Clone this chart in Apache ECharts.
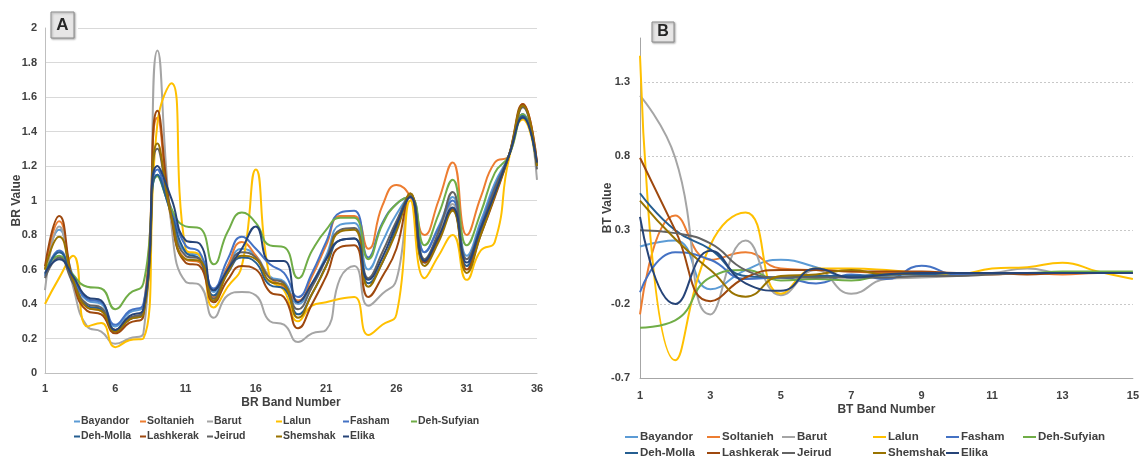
<!DOCTYPE html>
<html><head><meta charset="utf-8">
<script src="https://cdn.jsdelivr.net/npm/echarts@6/dist/echarts.min.js"></script>
<style>html,body{margin:0;padding:0;background:#fff}#c{width:1142px;height:463px}</style>
</head><body><div id="c"></div>
<script>
// ---------- DATA ----------
const bandsA = ['1','2','3','4','5','6','7','8','9','10','11','12','13','14','15','16','17','18','19','20','21','22','23','24','25','26','27','28','29','30','31','32','33','34','35','36'];
const bandsB = ['1','2','3','4','5','6','7','8','9','10','11','12','13','14','15'];
const seriesNames = ['Bayandor','Soltanieh','Barut','Lalun','Fasham','Deh-Sufyian','Deh-Molla','Lashkerak','Jeirud','Shemshak','Elika'];
const seriesColors = ['#5B9BD5','#ED7D31','#A5A5A5','#FFC000','#4472C4','#70AD47','#255E91','#9E480E','#636363','#997300','#264478'];

// BR values (panel A)
const brBayandor   = [0.60,0.83,0.56,0.42,0.40,0.27,0.35,0.39,1.15,0.92,0.70,0.68,0.47,0.62,0.72,0.68,0.56,0.53,0.40,0.52,0.68,0.86,0.87,0.60,0.76,0.92,1.02,0.70,0.85,1.02,0.68,0.88,1.10,1.26,1.50,1.20];
const brSoltanieh  = [0.60,0.88,0.52,0.38,0.36,0.25,0.31,0.37,1.48,0.88,0.66,0.64,0.44,0.62,0.76,0.68,0.55,0.50,0.42,0.56,0.74,0.91,0.91,0.72,0.97,1.09,1.02,0.80,1.00,1.22,0.80,1.02,1.22,1.26,1.56,1.22];
const brBarut      = [0.48,0.85,0.50,0.27,0.24,0.17,0.20,0.23,1.87,0.85,0.53,0.51,0.32,0.45,0.47,0.45,0.30,0.28,0.18,0.23,0.25,0.55,0.62,0.39,0.46,0.54,1.03,0.65,0.80,0.98,0.62,0.82,1.05,1.26,1.55,1.12];
const brLalun      = [0.40,0.55,0.68,0.27,0.29,0.15,0.19,0.20,1.45,1.68,0.72,0.68,0.38,0.50,0.62,1.18,0.55,0.48,0.30,0.39,0.41,0.43,0.44,0.22,0.28,0.34,1.00,0.55,0.68,0.80,0.54,0.71,0.76,1.24,1.47,1.20];
const brFasham     = [0.56,0.71,0.55,0.43,0.41,0.28,0.36,0.40,1.18,0.95,0.74,0.70,0.49,0.66,0.79,0.72,0.63,0.58,0.44,0.58,0.76,0.93,0.94,0.67,0.87,0.98,1.02,0.70,0.84,1.00,0.66,0.86,1.08,1.26,1.50,1.20];
const brDehSufyian = [0.60,0.68,0.57,0.50,0.49,0.37,0.46,0.52,1.14,0.95,0.85,0.84,0.63,0.82,0.93,0.87,0.74,0.73,0.55,0.71,0.83,0.90,0.90,0.66,0.86,0.98,1.02,0.74,0.92,1.12,0.74,0.93,1.16,1.26,1.50,1.20];
const brDehMolla   = [0.57,0.70,0.53,0.39,0.37,0.24,0.31,0.35,1.15,0.92,0.70,0.66,0.45,0.58,0.67,0.64,0.51,0.49,0.34,0.46,0.62,0.77,0.78,0.52,0.64,0.84,1.03,0.64,0.78,0.95,0.62,0.83,1.04,1.26,1.49,1.20];
const brLashkerak  = [0.62,0.91,0.53,0.36,0.34,0.23,0.29,0.33,1.52,0.90,0.64,0.62,0.41,0.54,0.62,0.60,0.47,0.44,0.26,0.40,0.56,0.73,0.74,0.44,0.56,0.72,1.04,0.64,0.78,0.95,0.60,0.80,1.02,1.26,1.56,1.22];
const brJeirud     = [0.55,0.67,0.52,0.40,0.38,0.25,0.32,0.36,1.30,0.91,0.68,0.66,0.43,0.60,0.70,0.67,0.55,0.52,0.37,0.50,0.66,0.83,0.84,0.55,0.70,0.88,1.03,0.66,0.82,1.05,0.66,0.84,1.07,1.26,1.54,1.18];
const brShemshak   = [0.60,0.79,0.54,0.38,0.36,0.24,0.31,0.34,1.33,0.90,0.66,0.65,0.42,0.58,0.68,0.66,0.53,0.51,0.32,0.46,0.62,0.82,0.83,0.50,0.64,0.82,1.04,0.62,0.76,0.94,0.58,0.80,1.03,1.26,1.55,1.20];
const brElika      = [0.58,0.66,0.56,0.44,0.42,0.25,0.33,0.37,1.20,1.01,0.77,0.75,0.48,0.60,0.72,0.85,0.65,0.65,0.41,0.52,0.66,0.77,0.78,0.54,0.67,0.86,1.02,0.65,0.79,0.96,0.64,0.84,1.04,1.26,1.48,1.22];

// BT values (panel B)
const btBayandor   = [0.19,0.23,-0.10,0.03,0.10,0.05,-0.02,-0.01,0.01,0.00,0.01,0.01,0.01,0.01,0.01];
const btSoltanieh  = [-0.27,0.40,0.10,0.15,0.04,0.03,0.02,0.01,0.01,0.00,0.00,0.01,0.00,0.01,0.01];
const btBarut      = [1.21,0.79,-0.27,0.23,-0.14,0.03,-0.13,-0.03,-0.02,-0.01,0.01,0.04,0.01,0.01,0.01];
const btLalun      = [1.48,-0.58,0.20,0.42,-0.13,0.04,0.04,0.03,0.01,0.00,0.04,0.05,0.08,0.02,-0.03];
const btFasham     = [-0.12,0.15,0.10,-0.03,-0.02,-0.06,0.00,-0.03,0.06,0.00,0.01,0.01,0.01,0.01,0.01];
const btDehSufyian = [-0.36,-0.31,-0.02,0.03,-0.04,-0.03,-0.04,0.00,0.01,0.01,0.01,0.01,0.02,0.02,0.02];
const btDehMolla   = [0.55,0.30,0.17,-0.01,-0.02,-0.01,-0.01,0.00,0.00,0.01,0.01,0.01,0.01,0.01,0.01];
const btLashkerak  = [0.79,0.30,-0.18,-0.02,0.03,0.03,0.02,0.02,0.02,0.01,0.01,0.00,0.01,0.01,0.01];
const btJeirud     = [0.30,0.28,0.21,0.03,-0.02,-0.02,-0.02,-0.02,-0.01,-0.01,0.00,0.01,0.01,0.01,0.01];
const btShemshak   = [0.50,0.24,0.03,-0.15,-0.01,0.00,0.03,0.00,0.01,0.01,0.01,0.01,0.01,0.01,0.01];
const btElika      = [0.39,-0.20,0.16,-0.06,-0.11,0.04,-0.02,0.00,0.01,0.01,0.01,0.01,0.01,0.01,0.01];

const yTicksA = {min: 0, max: 2, step: 0.2};
const yTicksB = {min: -0.7, max: 1.6, step: 0.5};   // labels -0.7, -0.2, 0.3, 0.8, 1.3

// ---------- CHART ----------
const brData = [brBayandor,brSoltanieh,brBarut,brLalun,brFasham,brDehSufyian,brDehMolla,brLashkerak,brJeirud,brShemshak,brElika];
const btData = [btBayandor,btSoltanieh,btBarut,btLalun,btFasham,btDehSufyian,btDehMolla,btLashkerak,btJeirud,btShemshak,btElika];
// B axis is drawn with an offset so that ticks start at -0.7 (ECharts counts ticks from a multiple of the interval)
const offB = -yTicksB.min;

const FONT = '"Liberation Sans", Arial, sans-serif';
const TXT = '#404040';

const series = [];
seriesNames.forEach((n, i) => {
  series.push({type:'line', name:n, xAxisIndex:0, yAxisIndex:0, data:brData[i], smooth:0.5,
    symbol:'none', showSymbol:false, lineStyle:{width:2, color:seriesColors[i]}, itemStyle:{color:seriesColors[i]}});
});
seriesNames.forEach((n, i) => {
  series.push({type:'line', name:n, xAxisIndex:1, yAxisIndex:1, data:btData[i].map(v => v + offB), smooth:0.5,
    symbol:'none', showSymbol:false, lineStyle:{width:2, color:seriesColors[i]}, itemStyle:{color:seriesColors[i]}});
});

const legends = [];
const colTextA = [81,147,214,283,350,418];
const rowA = [416,431];
const colTextB = [640,722,797,888,961,1038];
const rowB = [431,447];
seriesNames.forEach((n, i) => {
  const r = i < 6 ? 0 : 1, c = i < 6 ? i : i - 6;
  legends.push({data:[n], left: colTextA[c] - 7, top: rowA[r], padding:0, itemWidth:6, itemHeight:2, icon:'rect',
    selectedMode:false, textStyle:{fontSize:10.5, fontWeight:'bold', color:TXT, fontFamily:FONT, padding:[0,0,0,-4]}});
  legends.push({data:[n], left: colTextB[c] - 15, top: rowB[r], padding:0, itemWidth:13, itemHeight:2, icon:'rect',
    selectedMode:false, textStyle:{fontSize:11.5, fontWeight:'bold', color:TXT, fontFamily:FONT, padding:[0,0,0,-3]}});
});

const axisLabelStyle = {fontSize:11, fontWeight:'bold', color:TXT, fontFamily:FONT};
const nameStyle = {fontSize:12, fontWeight:'bold', color:TXT, fontFamily:FONT};

const option = {
  animation:false,
  backgroundColor:'#fff',
  grid:[
    {left:45, top:28, width:492, height:345},
    {left:640, top:38, width:494, height:340}
  ],
  xAxis:[
    {type:'category', gridIndex:0, data:bandsA, boundaryGap:false,
     axisLine:{lineStyle:{color:'#bfbfbf', width:1}}, axisTick:{show:false},
     axisLabel:Object.assign({interval:4, margin:10}, axisLabelStyle),
     name:'BR Band Number', nameLocation:'middle', nameGap:24, nameMoveOverlap:false, nameTextStyle:nameStyle, splitLine:{show:false}},
    {type:'category', gridIndex:1, data:bandsB, boundaryGap:false,
     axisLine:{lineStyle:{color:'#a6a6a6', width:1}}, axisTick:{show:false},
     axisLabel:Object.assign({interval:1, margin:12}, axisLabelStyle),
     name:'BT Band Number', nameLocation:'middle', nameGap:26, nameMoveOverlap:false, nameTextStyle:nameStyle, splitLine:{show:false}}
  ],
  yAxis:[
    {type:'value', gridIndex:0, min:yTicksA.min, max:yTicksA.max, interval:yTicksA.step,
     axisLine:{show:true, lineStyle:{color:'#bfbfbf', width:1}}, axisTick:{show:false},
     axisLabel:Object.assign({margin:8}, axisLabelStyle),
     splitLine:{show:true, lineStyle:{color:'#d9d9d9', width:1}},
     name:'BR Value', nameLocation:'middle', nameGap:22, nameMoveOverlap:false, nameTextStyle:nameStyle},
    {type:'value', gridIndex:1, min:0, max:yTicksB.max + offB, interval:yTicksB.step,
     axisLine:{show:true, lineStyle:{color:'#a6a6a6', width:1}}, axisTick:{show:false},
     axisLabel:Object.assign({margin:10, showMaxLabel:false,
        formatter: v => (Math.round((v - offB) * 10) / 10).toString()}, axisLabelStyle),
     splitLine:{show:true, showMinLine:false, showMaxLine:false, lineStyle:{color:'#c8c8c8', width:1, type:[2,2]}},
     name:'BT Value', nameLocation:'middle', nameGap:26, nameMoveOverlap:false, nameTextStyle:nameStyle}
  ],
  legend: legends,
  series: series,
  graphic:[
    {type:'rect', shape:{x:46, y:24, width:32, height:8}, style:{fill:'#fff'}, z:100},
    {type:'rect', shape:{x:51, y:12, width:23, height:26}, style:{fill:'#e7e6e6', stroke:'#8c8c8c', lineWidth:1,
      shadowBlur:2, shadowColor:'rgba(0,0,0,0.3)', shadowOffsetX:1, shadowOffsetY:1}, z:101},
    {type:'text', x:62.5, y:25, style:{text:'A', fill:'#262626', font:'bold 17px "Liberation Sans", Arial, sans-serif',
      textAlign:'center', textVerticalAlign:'middle'}, z:102},
    {type:'rect', shape:{x:652, y:22, width:22, height:20}, style:{fill:'#e7e6e6', stroke:'#8c8c8c', lineWidth:1,
      shadowBlur:2, shadowColor:'rgba(0,0,0,0.3)', shadowOffsetX:1, shadowOffsetY:1}, z:101},
    {type:'text', x:663, y:32, style:{text:'B', fill:'#262626', font:'bold 16px "Liberation Sans", Arial, sans-serif',
      textAlign:'center', textVerticalAlign:'middle'}, z:102}
  ]
};

const chart = echarts.init(document.getElementById('c'), null, {renderer:'canvas'});
chart.setOption(option);
</script></body></html>
